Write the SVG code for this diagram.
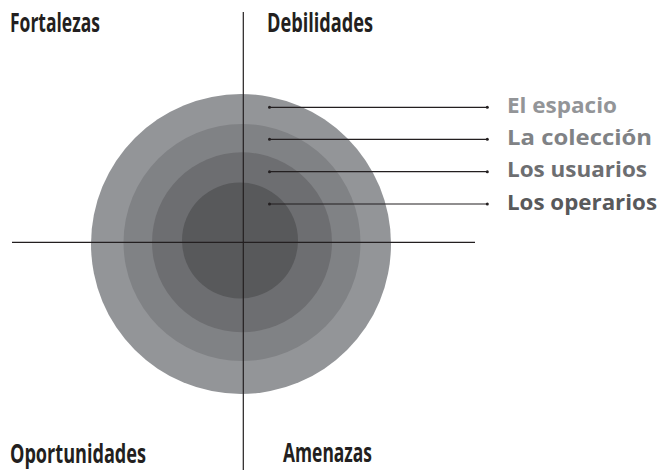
<svg xmlns="http://www.w3.org/2000/svg" width="663" height="470" viewBox="0 0 663 470">
<style>
.h{font-family:"Open Sans","Noto Sans","Liberation Sans",sans-serif;font-weight:bold;font-size:27px;fill:#231f20}
.l{font-family:"Open Sans","Noto Sans","Liberation Sans",sans-serif;font-weight:bold;font-size:22px}
.ax{stroke:#231f20;stroke-width:1.2;fill:none}
.ld{stroke:#231f20;stroke-width:1.2;fill:none;marker-start:url(#dot);marker-end:url(#dot)}
</style>
<defs>
<marker id="dot" viewBox="0 0 4 4" refX="2" refY="2" markerWidth="4" markerHeight="4" markerUnits="userSpaceOnUse"><circle cx="2" cy="2" r="1.5" fill="#231f20"/></marker>
</defs>
<g id="rings">
<circle id="ring-espacio" cx="241" cy="244" r="150" fill="#939598"/>
<circle id="ring-coleccion" cx="242" cy="242.5" r="118.5" fill="#808285"/>
<circle id="ring-usuarios" cx="242" cy="242.3" r="90" fill="#6d6e71"/>
<circle id="ring-operarios" cx="240" cy="240.5" r="58" fill="#58595b"/>
</g>
<g id="axes">
<line class="ax" x1="243.3" y1="12" x2="243.3" y2="470"/>
<line class="ax" x1="12" y1="242.3" x2="475" y2="242.3"/>
</g>
<g id="connectors">
<line class="ld" x1="269.5" y1="107.3" x2="487.3" y2="107.3"/>
<line class="ld" x1="269.5" y1="139.3" x2="487.3" y2="139.3"/>
<line class="ld" x1="269.5" y1="171.7" x2="487.3" y2="171.7"/>
<line class="ld" x1="269.5" y1="204" x2="487.3" y2="204"/>
</g>
<g id="label-espacio"><text class="l" x="507" y="113" fill="#939598" textLength="110" lengthAdjust="spacingAndGlyphs">El espacio</text></g>
<g id="label-coleccion"><text class="l" x="507" y="145" fill="#808285" textLength="145" lengthAdjust="spacingAndGlyphs">La colección</text></g>
<g id="label-usuarios"><text class="l" x="507" y="177.3" fill="#6d6e71" textLength="140" lengthAdjust="spacingAndGlyphs">Los usuarios</text></g>
<g id="label-operarios"><text class="l" x="507" y="209.5" fill="#58595b" textLength="150" lengthAdjust="spacingAndGlyphs">Los operarios</text></g>
<g id="q-fortalezas"><text class="h" x="10" y="32" textLength="90" lengthAdjust="spacingAndGlyphs">Fortalezas</text></g>
<g id="q-debilidades"><text class="h" x="267" y="32" textLength="106" lengthAdjust="spacingAndGlyphs">Debilidades</text></g>
<g id="q-oportunidades"><text class="h" x="10" y="463" textLength="136" lengthAdjust="spacingAndGlyphs">Oportunidades</text></g>
<g id="q-amenazas"><text class="h" x="283" y="462" textLength="89" lengthAdjust="spacingAndGlyphs">Amenazas</text></g>
</svg>
